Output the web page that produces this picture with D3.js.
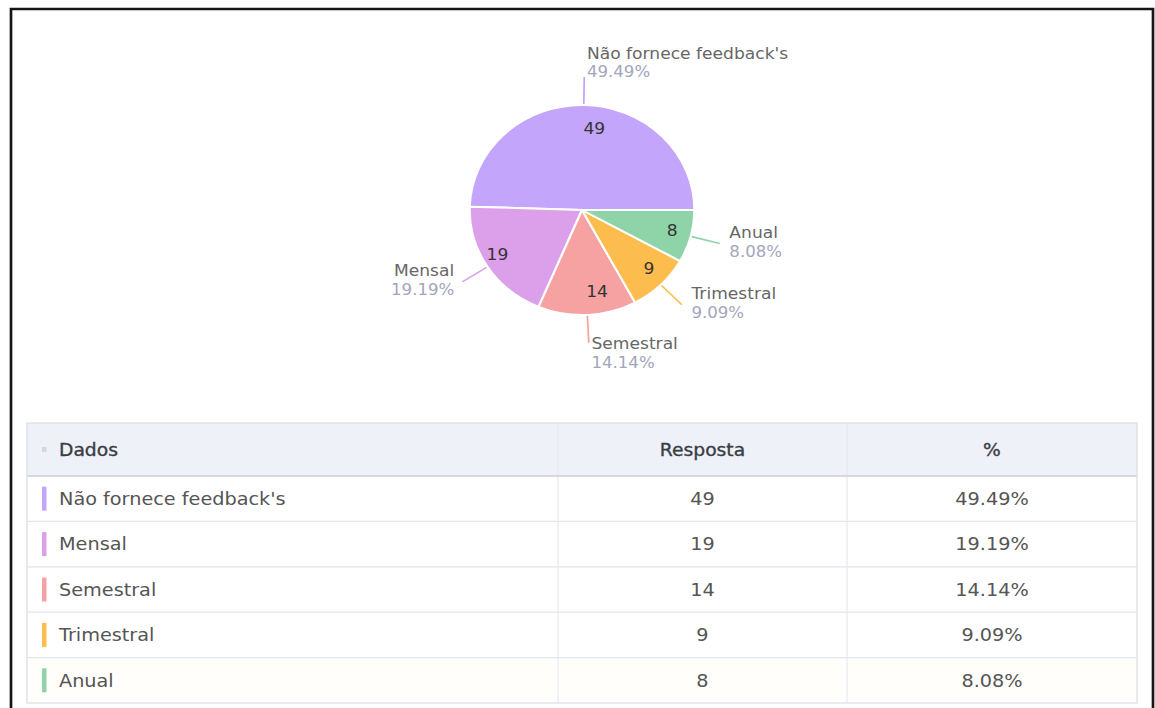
<!DOCTYPE html>
<html>
<head>
<meta charset="utf-8">
<script src="https://cdn.jsdelivr.net/npm/d3@7"></script>
<style>
  html, body { margin: 0; padding: 0; background: #fff; }
  svg { display: block; }
  text { font-family: "DejaVu Sans", "Noto Sans", sans-serif; }
</style>
</head>
<body>
<div id="chart"></div>
<script>
// Survey answers: how often feedback is given
const categories = ["Não fornece feedback's", "Mensal", "Semestral", "Trimestral", "Anual"];
const responses = [49, 19, 14, 9, 8];
const colors = ["#c3a5fb", "#dca0eb", "#f6a2a2", "#fdbd4e", "#8fd4a8"];
const columnHeaders = ["Dados", "Resposta", "%"];

const W = 1155, H = 708;
// the drawing is slightly wider than tall: horizontal units are stretched
const STRETCH = 1.07;
const X = v => v / STRETCH;

const svg = d3.select("#chart").append("svg")
  .attr("width", W).attr("height", H)
  .attr("viewBox", `0 0 ${W / STRETCH} ${H}`)
  .attr("preserveAspectRatio", "none");

// outer frame
svg.append("rect")
  .attr("x", X(11)).attr("y", 9)
  .attr("width", X(1153) - X(11)).attr("height", H + 20)
  .attr("fill", "none").attr("stroke", "#151515").attr("stroke-width", 2.5);

const total = d3.sum(responses);
const pctText = v => (v / total * 100).toFixed(2) + "%";
const data = categories.map((c, i) => ({ name: c, value: responses[i], color: colors[i] }));

// ---------- pie ----------
const cx = X(582), cy = 210, r = 105;
const pie = d3.pie().value(d => d.value).sort(null)
  .startAngle(Math.PI / 2).endAngle(Math.PI / 2 - 2 * Math.PI);
const arc = d3.arc().innerRadius(0).outerRadius(r);
const arcs = pie(data);

const g = svg.append("g").attr("transform", `translate(${cx},${cy})`);
g.selectAll("path.slice").data(arcs).join("path")
  .attr("class", "slice")
  .attr("d", arc)
  .attr("fill", d => d.data.color)
  .attr("stroke", "#fff")
  .attr("stroke-width", 2)
  .attr("stroke-linejoin", "round");

const mid = d => (d.startAngle + d.endAngle) / 2;
const at = (a, R) => [R * Math.sin(a), -R * Math.cos(a)];

// values inside the slices
g.selectAll("text.inner").data(arcs).join("text")
  .attr("class", "inner")
  .attr("x", d => at(mid(d), r * 0.78)[0])
  .attr("y", d => at(mid(d), r * 0.78)[1])
  .attr("dy", "0.35em")
  .attr("text-anchor", d => Math.sin(mid(d)) >= 0 ? "start" : "end")
  .attr("font-size", 16)
  .attr("fill", "#333")
  .text(d => d.value);

// leader lines and outer labels
const L = 28;
arcs.forEach(d => {
  const a = mid(d);
  const p0 = at(a, r + 1), p1 = at(a, r + L);
  g.append("line")
    .attr("x1", p0[0]).attr("y1", p0[1]).attr("x2", p1[0]).attr("y2", p1[1])
    .attr("stroke", d.data.color).attr("stroke-width", 1.6);

  const s = Math.sin(a), c = Math.cos(a);
  let tx, anchor, nameY, pctY;
  if (Math.abs(s) > 0.35) {
    anchor = s > 0 ? "start" : "end";
    tx = p1[0] + (s > 0 ? 9 : -7.5);
    nameY = p1[1] - 11; pctY = p1[1] + 8;
  } else {
    anchor = "start";
    tx = p1[0] + 2.5;
    if (c > 0) { nameY = p1[1] - 24; pctY = p1[1] - 5; }
    else { nameY = p1[1] + 1; pctY = p1[1] + 20; }
  }
  g.append("text")
    .attr("x", tx).attr("y", nameY).attr("dy", "0.35em")
    .attr("text-anchor", anchor).attr("font-size", 16).attr("fill", "#666")
    .text(d.data.name);
  g.append("text")
    .attr("x", tx).attr("y", pctY).attr("dy", "0.35em")
    .attr("text-anchor", anchor).attr("font-size", 15.5).attr("fill", "#a2a6bb")
    .text(pctText(d.value));
});

// ---------- table ----------
const tLeft = X(27), tRight = X(1137);
const colEdges = [tLeft, X(558), X(847), tRight];
const headTop = 423, headBottom = 476, tBottom = 703;
const y = d3.scaleBand().domain(categories).range([headBottom, tBottom]);
const colMid = i => (colEdges[i] + colEdges[i + 1]) / 2;

const t = svg.append("g");
t.append("rect")
  .attr("x", tLeft).attr("y", headTop)
  .attr("width", tRight - tLeft).attr("height", headBottom - headTop)
  .attr("fill", "#eff1f9");

// last row has a faint warm tint
t.append("rect")
  .attr("x", tLeft).attr("y", y(categories[categories.length - 1]))
  .attr("width", tRight - tLeft).attr("height", y.bandwidth())
  .attr("fill", "#fffefa");

// row separators
t.selectAll("line.row").data(categories.slice(1)).join("line")
  .attr("class", "row")
  .attr("x1", tLeft).attr("x2", tRight)
  .attr("y1", d => y(d)).attr("y2", d => y(d))
  .attr("stroke", "#e2e4ee").attr("stroke-width", 1.2);

// column dividers
t.selectAll("line.col").data(colEdges.slice(1, 3)).join("line")
  .attr("class", "col")
  .attr("x1", d => d).attr("x2", d => d)
  .attr("y1", headTop).attr("y2", tBottom)
  .attr("stroke", "#e4e6ef").attr("stroke-width", 1);

// header bottom rule
t.append("line")
  .attr("x1", tLeft).attr("x2", tRight)
  .attr("y1", headBottom).attr("y2", headBottom)
  .attr("stroke", "#d6d9e3").attr("stroke-width", 2.2);

// outer border
t.append("rect")
  .attr("x", tLeft).attr("y", headTop)
  .attr("width", tRight - tLeft).attr("height", tBottom - headTop)
  .attr("fill", "none").attr("stroke", "#dcdee8").attr("stroke-width", 1.2);

// header
const headY = (headTop + headBottom) / 2;
t.append("rect")
  .attr("x", X(42)).attr("y", headY - 2.5)
  .attr("width", X(4.5)).attr("height", 5)
  .attr("fill", "#d4d7e0");
columnHeaders.forEach((h, i) => {
  t.append("text")
    .attr("x", i === 0 ? X(59) : colMid(i))
    .attr("y", headY).attr("dy", "0.35em")
    .attr("text-anchor", i === 0 ? "start" : "middle")
    .attr("font-size", 17.5)
    .attr("fill", "#3a3d45")
    .attr("stroke", "#3a3d45").attr("stroke-width", 0.35)
    .text(h);
});

// body rows
const rows = t.selectAll("g.r").data(data).join("g").attr("class", "r")
  .attr("transform", d => `translate(0,${y(d.name) + y.bandwidth() / 2})`);
rows.append("rect")
  .attr("x", X(42)).attr("y", -12)
  .attr("width", X(4.5)).attr("height", 24)
  .attr("fill", d => d.color);
rows.append("text")
  .attr("x", X(59)).attr("dy", "0.35em")
  .attr("font-size", 18).attr("fill", "#555")
  .text(d => d.name);
rows.append("text")
  .attr("x", colMid(1)).attr("dy", "0.35em").attr("text-anchor", "middle")
  .attr("font-size", 18).attr("fill", "#555")
  .text(d => d.value);
rows.append("text")
  .attr("x", colMid(2)).attr("dy", "0.35em").attr("text-anchor", "middle")
  .attr("font-size", 18).attr("fill", "#555")
  .text(d => pctText(d.value));
</script>
</body>
</html>
